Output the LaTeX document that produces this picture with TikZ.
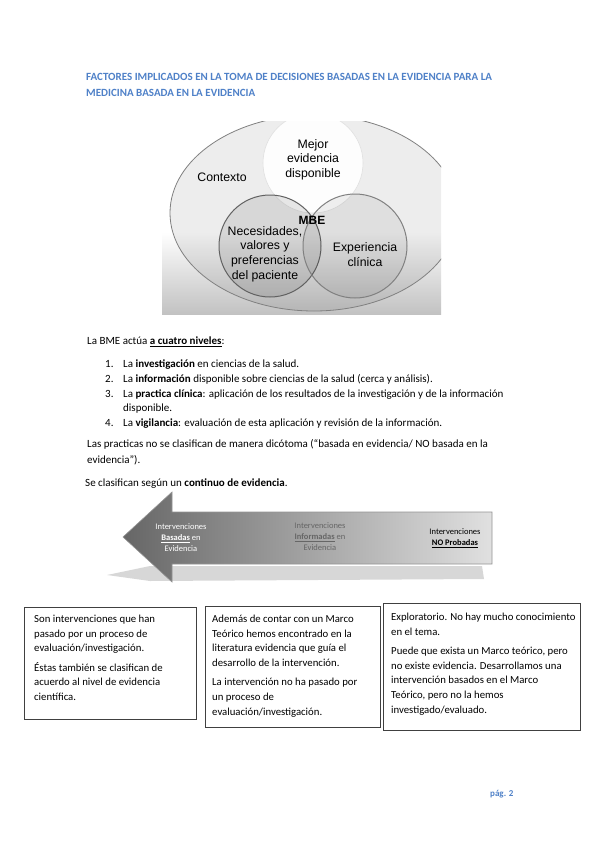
\documentclass[tikz,border=0pt]{standalone}
\usepackage{fontspec}
\setmainfont{Carlito}
\newfontfamily\arialf{Liberation Sans}
\definecolor{titleblue}{RGB}{79,129,200}
\begin{document}
\begin{tikzpicture}[x=1pt,y=-1pt,
 body/.style={anchor=base west, inner sep=0, font=\fontsize{11}{13}\selectfont},
 boxt/.style={anchor=base west, inner sep=0, font=\fontsize{10.75}{12}\selectfont},
 ttl/.style={anchor=base west, inner sep=0, font=\fontsize{11}{13}\selectfont\bfseries, text=titleblue},
 venn/.style={font=\arialf\fontsize{12.3}{14.6}\selectfont, align=center, inner sep=0},
 arrt/.style={font=\fontsize{8.5}{11}\selectfont, align=center, inner sep=0},
 tbox/.style={draw=black!75, line width=.8pt},
]
\useasboundingbox (0,0) rectangle (599,848);
\fill[white] (0,0) rectangle (599,848);

% title
\node[ttl] (t1) at (86,80.5) {FACTORES IMPLICADOS EN LA TOMA DE DECISIONES BASADAS EN LA EVIDENCIA PARA LA};
\node[ttl] (t2) at (86,97) {MEDICINA BASADA EN LA EVIDENCIA};

% Venn image
\begin{scope}
\clip (162,122) rectangle (441,314);
\fill[white] (162,122) rectangle (441,314);
\fill[top color=white, bottom color=black!24] (162,232) rectangle (441,314);
\draw[fill=black, fill opacity=.07, draw=black!50, line width=.8pt] (314,213) ellipse [x radius=144, y radius=98];
\draw[fill=white, fill opacity=.92, draw=black!12, line width=.6pt] (313,163) circle [radius=50];
\draw[fill=black, fill opacity=.09, draw=black!62, line width=1pt] (270,246) circle [radius=51];
\draw[fill=black, fill opacity=.06, draw=black!50, line width=1pt] (355,246) circle [radius=52];
\end{scope}
\node[venn] (ctx) at (222,177) {Contexto};
\node[venn] (mej) at (313,159.5) {Mejor\\evidencia\\disponible};
\node[venn, font=\arialf\bfseries\fontsize{12}{14}\selectfont] (mbe) at (312,220) {MBE};
\node[venn] (nec) at (265,254) {Necesidades,\\valores y\\preferencias\\del paciente};
\node[venn] (exper) at (365,254.5) {Experiencia\\clínica};

% body text
\node[body] (p0) at (87,344.5) {La BME actúa \textbf{\underline{a cuatro niveles}}:};
\node[body] (n1) at (105,367.5) {1.};
\node[body] (i1) at (123,367.5) {La \textbf{investigación} en ciencias de la salud.};
\node[body] (n2) at (105,382.3) {2.};
\node[body] (i2) at (123,382.3) {La \textbf{información} disponible sobre ciencias de la salud (cerca y análisis).};
\node[body] (n3) at (105,397) {3.};
\node[body] (i3) at (123,397) {La \textbf{practica clínica}: aplicación de los resultados de la investigación y de la información};
\node[body] (i3b) at (123,411.8) {disponible.};
\node[body] (n4) at (105,426.5) {4.};
\node[body] (i4) at (123,426.5) {La \textbf{vigilancia}: evaluación de esta aplicación y revisión de la información.};
\node[body] (p1) at (87,447.5) {Las practicas no se clasifican de manera dicótoma (“basada en evidencia/ NO basada en la};
\node[body] (p1b) at (87,463) {evidencia”).};
\node[body] (p2) at (85,486.5) {Se clasifican según un \textbf{continuo de evidencia}.};

% arrow
\fill[black!22, opacity=.7] (107,575) -- (150,566) -- (482,566) -- (484,579) -- (150,581) -- cycle;
\path[left color=black!60, right color=black!12, draw=black!42, line width=.6pt]
 (123,537) -- (172,492) -- (172,512) -- (492,512) -- (492,564) -- (172,564) -- (172,582) -- cycle;
\node[arrt, text=white] (a1) at (181,538) {Intervenciones\\\underline{\textbf{Basadas}} en\\Evidencia};
\node[arrt, text=black!60] (a2) at (320,537) {Intervenciones\\\underline{\textbf{Informadas}} en\\Evidencia};
\node[arrt] (a3) at (455,538) {Intervenciones\\\underline{\textbf{NO Probadas}}};

% boxes
\draw[tbox] (24,607) rectangle (196,719);
\draw[tbox] (205,606) rectangle (380,727);
\draw[tbox] (383,603) rectangle (580,730);

\node[boxt] (b1a) at (34,622.5) {Son intervenciones que han};
\node[boxt] (b1b) at (34,637) {pasado por un proceso de};
\node[boxt] (b1c) at (34,651.6) {evaluación/investigación.};
\node[boxt] (b1d) at (34,671.2) {Éstas también se clasifican de};
\node[boxt] (b1e) at (34,685.8) {acuerdo al nivel de evidencia};
\node[boxt] (b1f) at (34,700.4) {científica.};

\node[boxt] (b2a) at (212,622.5) {Además de contar con un Marco};
\node[boxt] (b2b) at (212,637) {Teórico hemos encontrado en la};
\node[boxt] (b2c) at (212,651.6) {literatura evidencia que guía el};
\node[boxt] (b2d) at (212,666.2) {desarrollo de la intervención.};
\node[boxt] (b2e) at (212,685.8) {La intervención no ha pasado por};
\node[boxt] (b2f) at (212,700.4) {un proceso de};
\node[boxt] (b2g) at (212,715) {evaluación/investigación.};

\node[boxt] (b3a) at (391,620.5) {Exploratorio. No hay mucho conocimiento};
\node[boxt] (b3b) at (391,635) {en el tema.};
\node[boxt] (b3c) at (391,654.6) {Puede que exista un Marco teórico, pero};
\node[boxt] (b3d) at (391,669.2) {no existe evidencia. Desarrollamos una};
\node[boxt] (b3e) at (391,683.8) {intervención basados en el Marco};
\node[boxt] (b3f) at (391,698.4) {Teórico, pero no la hemos};
\node[boxt] (b3g) at (391,713) {investigado/evaluado.};

\node[anchor=base west, inner sep=0, font=\fontsize{9}{11}\selectfont\bfseries, text=titleblue] (pg) at (490,796) {pág. 2};
\end{tikzpicture}
\end{document}
